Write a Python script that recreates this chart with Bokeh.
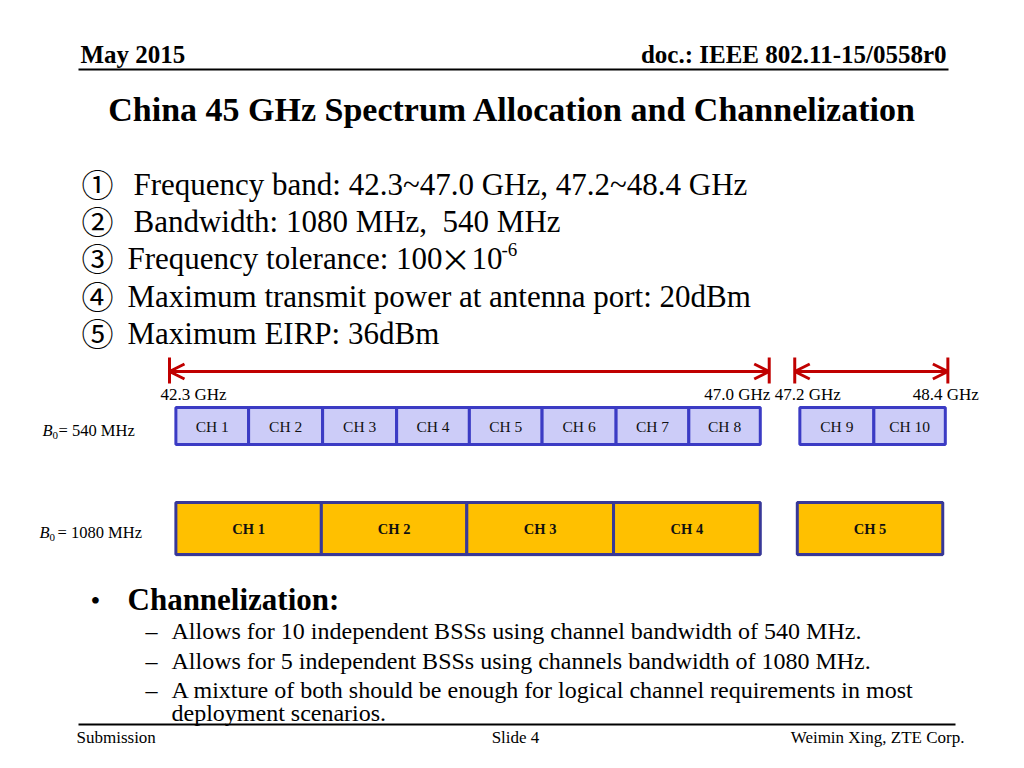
from bokeh.plotting import figure
from bokeh.models import Range1d, Label, Arrow, OpenHead, ColumnDataSource
from bokeh.core.properties import value
from bokeh.embed import file_html
from bokeh.resources import INLINE

# ---------------- data ----------------
header_left = "May 2015"
header_right = "doc.: IEEE 802.11-15/0558r0"
title = "China 45 GHz Spectrum Allocation and Channelization"

item_marks = ["\u2460", "\u2461", "\u2462", "\u2463", "\u2464"]
item_texts = [
    "Frequency band: 42.3~47.0 GHz, 47.2~48.4 GHz",
    "Bandwidth: 1080 MHz,\u00a0 540 MHz",
    "Frequency tolerance: 100",
    "Maximum transmit power at antenna port: 20dBm",
    "Maximum EIRP: 36dBm",
]
tol_parts = ["\u00d7", "10", "-6"]

band_start = [42.3, 47.2]
band_end = [47.0, 48.4]
freq_ticks = [42.3, 47.0, 47.2, 48.4]
freq_labels = ["42.3 GHz", "47.0 GHz", "47.2 GHz", "48.4 GHz"]

ch540_names = ["CH 1", "CH 2", "CH 3", "CH 4", "CH 5", "CH 6", "CH 7", "CH 8", "CH 9", "CH 10"]
ch540_start = [42.35, 42.92, 43.50, 44.08, 44.65, 45.22, 45.80, 46.37, 47.24, 47.82]
ch540_end = [42.92, 43.50, 44.08, 44.65, 45.22, 45.80, 46.37, 46.93, 47.82, 48.38]

ch1080_names = ["CH 1", "CH 2", "CH 3", "CH 4", "CH 5"]
ch1080_start = [42.35, 43.49, 44.63, 45.78, 47.22]
ch1080_end = [43.49, 44.63, 45.78, 46.93, 48.36]

row_labels = ["540 MHz", "1080 MHz"]

bullet_head = "Channelization:"
sub_items = [
    "Allows for 10 independent BSSs using channel bandwidth of 540 MHz.",
    "Allows for 5 independent BSSs using channels bandwidth of 1080 MHz.",
    "A mixture of both should be enough for logical channel requirements in most",
    "deployment scenarios.",
]
footer_left = "Submission"
footer_mid = "Slide 4"
footer_right = "Weimin Xing, ZTE Corp."

# ---------------- figure ----------------
W, H = 1008, 750
SERIF = "Liberation Serif"
CJK = "Noto Sans CJK SC"
K = 0.33  # baseline correction (fraction of font size)

px_per_ghz = 127.6
g0 = 42.3 - 169 / px_per_ghz
g1 = 42.3 + (W - 169) / px_per_ghz

p = figure(width=W, height=H, output_backend="svg", toolbar_location=None,
           x_range=Range1d(0, W), y_range=Range1d(H, 0),
           x_axis_location=None, y_axis_location=None, min_border=0,
           tools="")
p.extra_x_ranges = {"ghz": Range1d(g0, g1)}
p.outline_line_color = None
p.background_fill_color = "white"
p.border_fill_color = "white"
for g in p.grid:
    g.visible = False


def lab(x, base, text, size, font=SERIF, style="normal", align="left", color="black"):
    p.add_layout(Label(x=x, y=base - K * size, text=text, text_font=font,
                       text_font_size=f"{size}px", text_font_style=style,
                       text_align=align, text_baseline="alphabetic", text_color=color))


# header
lab(80, 62, header_left, 25, style="bold")
lab(946, 62, header_right, 25, style="bold", align="right")
p.segment(x0=[78], y0=[69], x1=[948], y1=[69], line_color="black", line_width=2)
lab(512, 120, title, 34, style="bold", align="center")

# numbered items
base_y = [194, 231, 268, 306, 343]
text_x = [133, 133, 127, 127, 127]
for m, t, y, x in zip(item_marks, item_texts, base_y, text_x):
    lab(97, y - 1, m, 32, font=CJK, align="center")
    lab(x, y, t, 31)
lab(455, base_y[2] - 1, tol_parts[0], 31, font=CJK, align="center")
lab(471, base_y[2], tol_parts[1], 31)
lab(501, base_y[2] - 13, tol_parts[2], 19)

# arrows
red = "#C00000"
for s, e in zip(band_start, band_end):
    p.add_layout(Arrow(x_start=s, y_start=371, x_end=e, y_end=371, x_range_name="ghz",
                       line_color=red, line_width=3,
                       start=OpenHead(size=15, line_color=red, line_width=3),
                       end=OpenHead(size=15, line_color=red, line_width=3)))
p.segment(x0=freq_ticks, y0=357, x1=freq_ticks, y1=383, x_range_name="ghz",
          line_color=red, line_width=3)
p.text(x=freq_ticks, y=400 - K * 17, text=freq_labels, x_range_name="ghz",
       x_offset=[24, -32, 13, -2], text_align="center", text_baseline="alphabetic",
       text_font=value(SERIF), text_font_size="17px", text_color="black")

# 540 MHz channels
src540 = ColumnDataSource(dict(l=ch540_start, r=ch540_end, name=ch540_names,
                               c=[(a + b) / 2 for a, b in zip(ch540_start, ch540_end)]))
p.quad(left="l", right="r", top=407, bottom=444, source=src540, x_range_name="ghz",
       fill_color="#CCCCF8", line_color="#3B3BC4", line_width=3)
p.text(x="c", y=426, text="name", source=src540, x_range_name="ghz",
       text_align="center", text_baseline="middle", text_font=value(SERIF),
       text_font_size="15.5px", text_color="#111111")

# 1080 MHz channels
src1080 = ColumnDataSource(dict(l=ch1080_start, r=ch1080_end, name=ch1080_names,
                                c=[(a + b) / 2 for a, b in zip(ch1080_start, ch1080_end)]))
p.quad(left="l", right="r", top=504, bottom=556, source=src1080, x_range_name="ghz",
       fill_color="#7F7F7F", fill_alpha=0.35, line_color=None)
p.quad(left="l", right="r", top=502, bottom=554, source=src1080, x_range_name="ghz",
       fill_color="#FFC000", line_color="#383898", line_width=3)
p.text(x="c", y=528, text="name", source=src1080, x_range_name="ghz",
       text_align="center", text_baseline="middle", text_font=value(SERIF),
       text_font_style="bold", text_font_size="14.5px", text_color="#111111")

# B0 row labels
for (bx, zx, ex, by), t in zip([(42, 52, 58, 435), (39, 49, 57, 537)], row_labels):
    lab(bx, by, "B", 16.5, style="italic")
    lab(zx, by + 4, "0", 11)
    lab(ex, by, "= " + t, 16.5)

# Channelization bullets
lab(90, 609, "\u2022", 28, align="left")
lab(127, 609, bullet_head, 31, style="bold")
sub_y = [638, 668, 697, 720]
for i, (t, y) in enumerate(zip(sub_items, sub_y)):
    if i < 3:
        lab(145, y, "\u2013", 24)
    lab(171, y, t, 24)

# footer
p.segment(x0=[78], y0=[724], x1=[955], y1=[724], line_color="black", line_width=2)
lab(76, 743, footer_left, 17)
lab(515, 743, footer_mid, 17, align="center")
lab(964, 743, footer_right, 17, align="right")

open("out.html", "w").write(file_html(p, INLINE))
